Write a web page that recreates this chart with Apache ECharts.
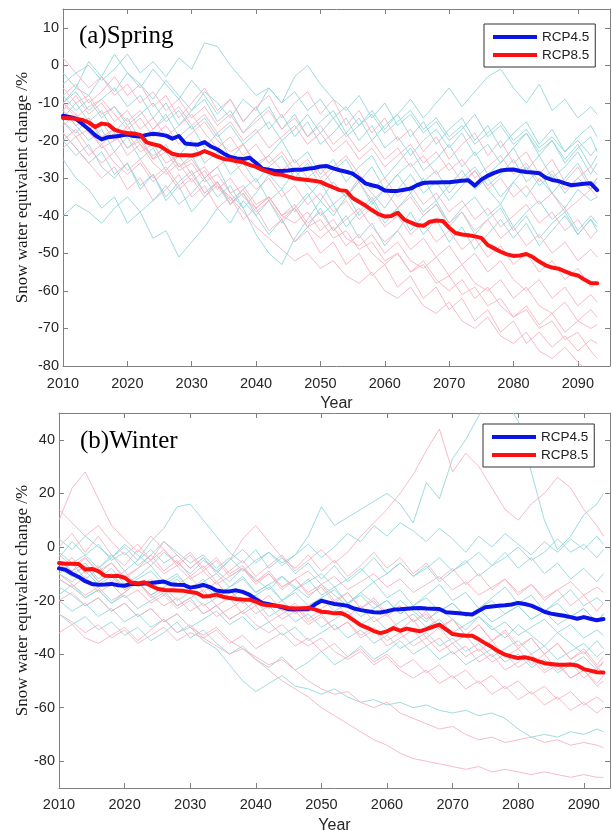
<!DOCTYPE html>
<html>
<head>
<meta charset="utf-8">
<script src="https://cdn.jsdelivr.net/npm/echarts@6/dist/echarts.min.js"></script>
<style>
html,body{margin:0;padding:0;background:#fff}
#c{width:612px;height:830px}
</style>
</head>
<body>
<div id="c"></div>
<script>
// Years of the ensemble-mean curves and of the individual model runs
const yearsMean = [2010,2011,2012,2013,2014,2015,2016,2017,2018,2019,2020,2021,2022,2023,2024,2025,2026,2027,2028,2029,2030,2031,2032,2033,2034,2035,2036,2037,2038,2039,2040,2041,2042,2043,2044,2045,2046,2047,2048,2049,2050,2051,2052,2053,2054,2055,2056,2057,2058,2059,2060,2061,2062,2063,2064,2065,2066,2067,2068,2069,2070,2071,2072,2073,2074,2075,2076,2077,2078,2079,2080,2081,2082,2083,2084,2085,2086,2087,2088,2089,2090,2091,2092,2093];
const yearsRuns = [2010,2012,2014,2016,2018,2020,2022,2024,2026,2028,2030,2032,2034,2036,2038,2040,2042,2044,2046,2048,2050,2052,2054,2056,2058,2060,2062,2064,2066,2068,2070,2072,2074,2076,2078,2080,2082,2084,2086,2088,2090,2092,2093];

// Tick values
const springYTicks = [-80,-70,-60,-50,-40,-30,-20,-10,0,10];
const winterYTicks = [-80,-60,-40,-20,0,20,40];
const xTicks = [2010,2020,2030,2040,2050,2060,2070,2080,2090];

// (a) Spring – ensemble means (%)
const springRcp45 = [-13.4,-13.7,-14.2,-15.6,-17.0,-18.6,-19.7,-19.1,-18.9,-18.7,-18.4,-18.8,-18.9,-18.5,-18.2,-18.4,-18.7,-19.5,-18.8,-20.8,-21.0,-21.1,-20.4,-21.6,-22.4,-23.5,-24.4,-24.8,-24.9,-24.6,-26.0,-27.5,-27.8,-28.1,-28.1,-28.0,-27.8,-27.8,-27.5,-27.3,-26.9,-26.8,-27.4,-27.9,-28.3,-28.8,-30.0,-31.4,-31.9,-32.3,-33.3,-33.4,-33.4,-33.1,-32.8,-31.9,-31.3,-31.2,-31.2,-31.1,-31.1,-30.9,-30.7,-30.6,-32.0,-30.4,-29.4,-28.6,-28.0,-27.8,-27.7,-28.1,-28.4,-28.5,-28.7,-29.9,-30.5,-30.8,-31.4,-31.9,-31.7,-31.5,-31.4,-33.2];
const springRcp85 = [-14.0,-14.1,-14.2,-14.5,-15.2,-16.4,-15.5,-15.7,-17.1,-17.7,-18.0,-18.1,-18.5,-20.5,-21.0,-21.4,-22.5,-23.5,-23.9,-23.9,-24.0,-23.6,-22.8,-23.5,-24.3,-24.9,-25.1,-25.5,-25.8,-26.5,-27.0,-27.8,-28.4,-29.0,-29.1,-29.6,-30.1,-30.3,-30.5,-30.7,-31.0,-31.8,-32.5,-33.2,-33.4,-35.3,-36.3,-37.3,-38.5,-39.6,-40.2,-40.1,-39.2,-41.0,-41.8,-42.5,-42.7,-41.6,-41.3,-41.4,-43.2,-44.6,-45.0,-45.2,-45.5,-45.9,-47.8,-48.7,-49.6,-50.3,-50.7,-50.6,-50.2,-51.0,-52.2,-53.2,-53.8,-54.1,-54.8,-55.5,-55.9,-57.0,-57.9,-58.0];

// (a) Spring – individual model runs, RCP4.5
const springRuns45 = [
  [-5,-2,0,-4,-1,3,-2,1,-3,2,-1,6,5,0,-4,-8,-6,-10,-7,-12,-9,-14,-11,-16,-13,-18,-15,-12,-17,-14,-19,-16,-21,-18,-15,-20,-17,-22,-19,-23,-20,-24,-22],
  [-10,-6,-8,-3,-7,-2,-5,-9,-4,-8,-12,-7,-10,-14,-9,-12,-6,-10,-3,0,-5,-9,-12,-8,-14,-10,-16,-13,-18,-15,-20,-17,-13,-19,-16,-21,-18,-24,-20,-26,-22,-19,-23],
  [-25,-30,-33,-38,-35,-42,-39,-46,-44,-51,-47,-43,-38,-42,-36,-40,-45,-41,-47,-43,-38,-44,-40,-46,-42,-48,-44,-39,-45,-41,-47,-43,-49,-45,-41,-46,-42,-48,-44,-40,-45,-41,-43],
  [-40,-37,-39,-42,-38,-35,-39,-36,-32,-37,-34,-30,-35,-32,-38,-34,-29,-33,-28,-32,-36,-31,-35,-30,-34,-38,-33,-29,-34,-31,-36,-32,-28,-33,-37,-31,-35,-30,-34,-38,-33,-36,-35],
  [-15,-18,-14,-20,-17,-22,-19,-25,-21,-27,-24,-30,-27,-34,-38,-45,-50,-53,-46,-41,-36,-40,-35,-31,-37,-33,-29,-34,-30,-36,-32,-28,-33,-30,-35,-31,-27,-32,-29,-34,-30,-33,-31],
  [-8,-12,-9,-14,-11,-16,-13,-10,-15,-12,-17,-14,-19,-16,-21,-18,-15,-20,-17,-13,-18,-14,-19,-16,-12,-17,-13,-9,-14,-10,-6,-11,-7,-3,-1,-6,-10,-5,-12,-9,-14,-11,-13],
  [-12,-16,-20,-17,-23,-19,-25,-22,-28,-24,-20,-26,-23,-29,-26,-31,-27,-24,-30,-26,-32,-28,-25,-31,-27,-33,-29,-26,-31,-28,-34,-30,-27,-32,-29,-25,-31,-28,-34,-30,-26,-32,-30],
  [-18,-22,-26,-23,-29,-26,-32,-29,-35,-31,-28,-34,-31,-37,-33,-30,-36,-33,-39,-35,-31,-37,-34,-40,-36,-42,-38,-34,-39,-36,-42,-38,-35,-40,-37,-43,-39,-36,-41,-38,-44,-40,-42],
  [-2,-6,1,-3,3,-2,-6,-1,-5,-9,-4,-8,-13,-9,-15,-11,-17,-13,-19,-15,-21,-18,-14,-20,-16,-22,-19,-24,-20,-17,-22,-18,-24,-21,-26,-22,-18,-23,-20,-25,-21,-27,-24],
  [-14,-10,-15,-12,-18,-14,-20,-17,-13,-19,-16,-22,-18,-25,-21,-27,-24,-20,-26,-23,-29,-25,-31,-27,-24,-30,-26,-22,-28,-25,-21,-27,-23,-29,-26,-22,-28,-24,-30,-27,-23,-29,-26],
  [-20,-24,-21,-27,-30,-26,-33,-29,-36,-32,-39,-35,-31,-37,-34,-40,-36,-42,-38,-34,-40,-37,-43,-39,-35,-41,-38,-44,-40,-37,-43,-39,-45,-41,-38,-44,-40,-46,-42,-39,-45,-41,-44],
  [-10,-7,-12,-9,-6,-11,-8,-14,-10,-16,-12,-9,-15,-12,-18,-14,-11,-17,-13,-19,-15,-12,-18,-14,-20,-16,-13,-19,-15,-21,-17,-14,-20,-16,-22,-18,-15,-21,-17,-23,-19,-16,-19]
];

// (a) Spring – individual model runs, RCP8.5
const springRuns85 = [
  [2,-2,-6,-3,-8,-5,-10,-7,-12,-9,-14,-11,-16,-13,-18,-15,-12,-17,-14,-19,-16,-21,-18,-23,-20,-25,-22,-27,-24,-29,-26,-31,-28,-33,-30,-35,-32,-37,-34,-39,-36,-33,-35],
  [-8,-5,-10,-7,-3,-8,-5,-11,-8,-14,-10,-6,-12,-9,-15,-11,-8,-14,-10,-7,-13,-9,-16,-12,-18,-14,-20,-17,-23,-19,-25,-21,-18,-24,-20,-26,-23,-29,-25,-31,-27,-33,-30],
  [-12,-16,-14,-19,-17,-22,-20,-25,-23,-28,-26,-31,-29,-34,-32,-37,-35,-40,-38,-43,-41,-46,-44,-49,-47,-52,-50,-55,-53,-58,-56,-61,-59,-64,-62,-67,-65,-70,-68,-73,-71,-76,-78],
  [-10,-13,-17,-15,-20,-18,-23,-21,-26,-24,-29,-27,-32,-35,-39,-43,-46,-49,-52,-50,-54,-52,-56,-58,-55,-60,-62,-59,-64,-66,-63,-68,-70,-67,-72,-74,-71,-76,-78,-75,-79,-82,-81],
  [-15,-19,-17,-22,-20,-16,-21,-24,-22,-27,-25,-30,-27,-24,-29,-33,-30,-35,-32,-37,-34,-39,-36,-41,-38,-43,-40,-45,-42,-47,-44,-49,-46,-51,-48,-53,-50,-55,-52,-57,-54,-59,-58],
  [-6,-10,-8,-13,-11,-15,-12,-17,-14,-11,-16,-13,-18,-15,-20,-17,-22,-19,-16,-21,-18,-23,-20,-25,-22,-27,-24,-21,-26,-23,-28,-25,-30,-27,-24,-29,-26,-31,-28,-33,-30,-27,-29],
  [-20,-17,-22,-26,-23,-28,-25,-30,-27,-32,-29,-34,-31,-36,-33,-38,-35,-40,-42,-39,-44,-41,-46,-48,-45,-50,-47,-52,-54,-51,-56,-53,-58,-60,-57,-62,-59,-64,-66,-63,-68,-65,-67],
  [-10,-14,-11,-9,-13,-17,-14,-19,-16,-21,-18,-15,-20,-23,-21,-26,-24,-28,-25,-30,-27,-32,-35,-31,-36,-33,-38,-35,-40,-37,-42,-39,-44,-41,-46,-43,-48,-45,-50,-47,-52,-49,-51],
  [-18,-22,-26,-30,-27,-33,-30,-36,-33,-29,-35,-32,-38,-35,-41,-38,-44,-41,-47,-44,-50,-47,-53,-50,-56,-53,-59,-56,-62,-59,-65,-62,-68,-65,-71,-68,-74,-71,-75,-72,-76,-73,-74],
  [-12,-8,-13,-10,-15,-12,-17,-14,-19,-16,-13,-18,-22,-19,-24,-21,-26,-23,-28,-25,-30,-27,-24,-29,-33,-30,-35,-32,-37,-34,-39,-36,-41,-38,-43,-40,-37,-42,-39,-44,-41,-46,-44],
  [-16,-13,-18,-21,-18,-24,-21,-26,-29,-26,-31,-28,-33,-30,-35,-38,-35,-40,-37,-42,-39,-44,-41,-38,-43,-47,-44,-49,-46,-51,-48,-53,-50,-55,-52,-57,-60,-57,-62,-59,-64,-61,-63],
  [-22,-19,-24,-21,-26,-29,-26,-31,-28,-33,-30,-35,-32,-37,-34,-39,-36,-41,-38,-43,-46,-43,-48,-45,-50,-53,-50,-55,-52,-57,-60,-57,-62,-59,-64,-67,-64,-69,-66,-71,-68,-70,-69]
];

// (b) Winter – ensemble means (%)
const winterRcp45 = [-8.0,-8.5,-10.0,-11.2,-12.8,-13.8,-14.1,-14.0,-13.8,-14.3,-14.5,-13.8,-13.8,-13.7,-13.5,-13.2,-12.9,-13.9,-14.1,-14.2,-15.2,-14.8,-14.2,-15.0,-16.3,-16.6,-16.6,-16.2,-16.8,-17.8,-19.5,-20.9,-21.4,-21.9,-22.5,-23.3,-23.4,-23.2,-23.3,-21.5,-20.1,-20.7,-21.3,-21.6,-22.0,-23.0,-23.6,-24.0,-24.4,-24.5,-24.0,-23.4,-23.3,-23.1,-22.9,-22.8,-23.0,-23.1,-23.2,-24.4,-24.6,-24.8,-25.0,-25.2,-23.8,-22.5,-22.2,-22.0,-21.8,-21.5,-20.9,-21.3,-21.9,-23.0,-24.2,-24.9,-25.3,-25.7,-26.2,-26.8,-26.2,-26.8,-27.4,-26.9];
const winterRcp85 = [-6.0,-6.3,-6.3,-6.4,-8.4,-8.2,-9.0,-10.8,-10.9,-10.8,-11.5,-13.3,-13.6,-13.2,-14.5,-15.6,-16.1,-16.2,-16.3,-16.4,-16.8,-17.2,-18.5,-18.3,-17.8,-18.6,-19.1,-19.4,-19.6,-19.7,-20.4,-21.5,-21.8,-22.0,-22.2,-22.8,-23.0,-22.9,-22.8,-23.3,-24.2,-24.4,-24.8,-24.7,-25.8,-27.5,-29.2,-30.2,-31.4,-32.2,-31.5,-30.3,-31.3,-30.5,-31.0,-31.5,-30.7,-29.8,-29.0,-30.8,-32.5,-32.9,-33.2,-33.2,-34.5,-36.0,-37.4,-39.0,-40.2,-40.9,-41.5,-41.2,-41.7,-42.6,-43.4,-43.7,-44.0,-44.0,-43.9,-44.3,-45.6,-46.2,-46.8,-46.9];

// (b) Winter – individual model runs, RCP4.5
const winterRuns45 = [
  [-4,2,-3,1,-5,-2,-7,-3,2,-2,-6,-3,-8,-4,-9,-5,-2,-6,-3,4,15,8,11,14,17,20,16,9,24,18,33,40,49,58,55,47,28,10,-1,4,12,16,20],
  [-10,-6,-12,-8,-3,-9,-5,2,7,15,16,10,4,-2,-6,-1,-8,-4,-10,-6,-12,-7,-13,-9,-4,-10,-6,-11,-7,-13,-9,-5,-11,-7,-2,-8,-4,-10,-6,-12,-8,-13,-10],
  [-20,-24,-21,-26,-23,-28,-25,-30,-27,-32,-30,-35,-38,-44,-50,-54,-51,-48,-52,-53,-55,-53,-56,-58,-57,-59,-58,-60,-59,-61,-62,-61,-63,-62,-64,-68,-71,-70,-71,-69,-70,-68,-69],
  [-5,-9,-6,-12,-8,-14,-11,-7,-13,-10,-16,-12,-18,-15,-11,-17,-14,-20,-16,-12,-18,-15,-21,-17,-13,-19,-16,-22,-18,-14,-20,-17,-23,-19,-15,-21,-18,-24,-20,-16,-22,-19,-21],
  [-12,-15,-19,-16,-21,-18,-23,-20,-17,-22,-19,-25,-22,-27,-24,-20,-26,-23,-28,-25,-30,-27,-24,-29,-26,-31,-28,-25,-30,-27,-32,-29,-26,-31,-28,-33,-30,-27,-32,-29,-34,-31,-33],
  [-2,-6,-3,-8,-4,0,-5,-1,-6,-3,-8,-4,-9,-5,-1,-6,-2,-7,-3,1,-4,0,5,2,8,4,9,6,2,7,3,-2,4,0,5,1,-3,2,-2,3,-1,4,1],
  [-15,-18,-22,-19,-24,-21,-26,-23,-28,-25,-30,-27,-24,-29,-26,-31,-28,-33,-30,-35,-32,-29,-34,-31,-36,-33,-38,-35,-32,-37,-34,-39,-36,-41,-38,-35,-40,-37,-42,-39,-36,-41,-39],
  [-8,-11,-7,-13,-10,-15,-12,-9,-14,-11,-16,-13,-10,-15,-12,-17,-14,-11,-16,-13,-10,-15,-12,-8,-13,-10,-6,-11,-8,-4,-9,-6,-2,-7,-4,0,-5,-2,3,-2,1,-4,-1],
  [-18,-14,-19,-16,-21,-17,-13,-18,-15,-20,-17,-22,-19,-16,-21,-18,-23,-20,-25,-22,-19,-24,-21,-26,-23,-20,-25,-22,-27,-24,-21,-26,-23,-28,-25,-22,-27,-24,-29,-26,-23,-28,-25],
  [3,-1,4,0,-4,1,-3,-7,-2,-6,-10,-5,-9,-13,-8,-12,-16,-11,-15,-19,-14,-18,-22,-17,-21,-25,-20,-24,-28,-23,-27,-31,-26,-30,-34,-29,-33,-37,-32,-36,-40,-35,-38],
  [-25,-29,-26,-31,-28,-33,-30,-35,-32,-28,-34,-31,-36,-40,-37,-42,-45,-41,-46,-43,-39,-44,-41,-37,-42,-39,-35,-40,-37,-42,-39,-44,-41,-38,-43,-40,-45,-42,-47,-44,-41,-46,-43],
  [-10,-13,-9,-14,-11,-16,-13,-18,-15,-12,-17,-14,-19,-16,-21,-18,-15,-20,-17,-22,-19,-16,-21,-18,-23,-20,-25,-22,-19,-24,-21,-26,-23,-20,-25,-22,-27,-24,-21,-26,-23,-28,-25]
];

// (b) Winter – individual model runs, RCP8.5
const winterRuns85 = [
  [10,22,28,18,8,3,-2,4,-1,-6,-2,-8,-4,-10,-7,-13,-9,-15,-12,-17,-14,-20,-17,-23,-19,-25,-22,-28,-24,-30,-27,-33,-29,-35,-31,-37,-34,-40,-36,-42,-38,-44,-41],
  [-5,-9,-4,-10,-6,-12,-8,-3,-9,-5,-11,-7,-13,-9,-5,-11,-7,-3,-9,-5,-1,-6,-2,4,9,14,20,27,36,44,28,35,30,22,14,10,16,20,26,22,14,8,4],
  [-25,-28,-32,-29,-34,-31,-36,-33,-30,-35,-32,-34,-37,-40,-38,-42,-46,-50,-53,-56,-60,-63,-66,-69,-72,-74,-77,-79,-80,-81,-82,-83,-82,-84,-83,-84,-85,-84,-85,-86,-85,-86,-86],
  [-20,-17,-22,-19,-24,-21,-26,-23,-28,-25,-30,-33,-30,-35,-38,-41,-44,-42,-46,-50,-53,-55,-54,-58,-60,-58,-62,-64,-66,-68,-67,-70,-72,-71,-73,-72,-71,-73,-72,-74,-73,-74,-75],
  [-12,-15,-11,-17,-14,-19,-16,-21,-18,-23,-20,-25,-22,-27,-24,-29,-32,-29,-34,-37,-34,-39,-42,-39,-44,-41,-46,-49,-46,-51,-48,-53,-50,-55,-52,-57,-54,-59,-56,-61,-58,-62,-60],
  [-8,-4,-10,-7,-13,-9,-15,-12,-18,-14,-11,-17,-13,-19,-16,-22,-18,-24,-21,-27,-23,-20,-26,-22,-28,-25,-31,-27,-34,-30,-36,-33,-39,-35,-41,-38,-44,-40,-46,-43,-49,-45,-47],
  [0,5,-2,4,-3,-7,-1,-5,2,-3,-8,-4,-10,-5,3,8,2,-4,-8,-3,-9,-5,-11,-7,-2,-8,-4,-10,-6,-12,-8,-14,-10,-16,-12,-18,-14,-20,-16,-22,-18,-24,-21],
  [-6,-10,-7,-13,-10,-16,-13,-19,-16,-22,-19,-16,-22,-19,-25,-22,-28,-25,-22,-28,-25,-31,-28,-34,-31,-37,-34,-31,-37,-34,-40,-37,-43,-40,-46,-43,-40,-46,-43,-49,-46,-52,-50],
  [14,9,4,8,2,-3,1,-5,-1,-7,-3,-9,-5,-11,-8,-14,-10,-16,-12,-18,-15,-21,-17,-23,-20,-26,-22,-28,-25,-31,-27,-33,-29,-35,-32,-38,-34,-40,-36,-42,-39,-45,-43],
  [-32,-29,-34,-36,-33,-30,-35,-31,-27,-32,-29,-34,-31,-36,-33,-38,-35,-32,-37,-34,-39,-36,-41,-38,-43,-40,-45,-42,-47,-44,-49,-46,-51,-48,-53,-50,-55,-52,-57,-54,-59,-56,-58],
  [-10,-14,-18,-15,-20,-17,-13,-18,-22,-19,-24,-21,-26,-23,-20,-25,-22,-27,-24,-29,-26,-31,-28,-33,-30,-35,-32,-37,-34,-39,-36,-41,-38,-43,-40,-45,-42,-47,-44,-49,-46,-51,-48],
  [-3,-7,-4,-9,-6,-11,-8,-5,-10,-7,-12,-9,-14,-11,-8,-13,-10,-15,-12,-9,-14,-11,-16,-13,-10,-15,-12,-17,-14,-11,-16,-13,-18,-15,-12,-17,-14,-19,-16,-13,-18,-15,-17]
];

const BLUE = '#0a14e6', RED = '#ff1010';
const CYAN = '#8fd4d9', PINK = '#f6afbd';
const AXIS = '#808080';

const pairs = (xs, ys) => ys.map((v, i) => [xs[i], v]);

function runSeries(runs, color, axis) {
  return runs.map(vals => ({
    type: 'line', xAxisIndex: axis, yAxisIndex: axis,
    data: pairs(yearsRuns, vals), symbol: 'none', silent: true,
    lineStyle: { color: color, width: 1, opacity: 0.85 }, z: 1
  }));
}
function meanSeries(name, vals, color, axis) {
  return {
    name: name, type: 'line', xAxisIndex: axis, yAxisIndex: axis,
    data: pairs(yearsMean, vals), symbol: 'none', silent: true, color: color,
    lineStyle: { color: color, width: 4, cap: 'round', join: 'round' }, z: 5
  };
}

const tickStyle = { show: true, inside: true, length: 5, lineStyle: { color: AXIS } };
const lineStyle = { show: true, onZero: false, lineStyle: { color: AXIS, width: 1 } };
const labelFont = { fontFamily: 'Liberation Sans', fontSize: 14.5, color: '#262626' };
const plain = v => String(v);

function xAxes(grid, max, margin, gap) {
  return [
    { type: 'value', gridIndex: grid, min: 2010, max: max, position: 'bottom',
      name: 'Year', nameLocation: 'middle', nameGap: gap, nameMoveOverlap: false,
      nameTextStyle: { fontFamily: 'Liberation Sans', fontSize: 16, color: '#262626' },
      axisLine: lineStyle, axisTick: Object.assign({ customValues: xTicks }, tickStyle),
      axisLabel: Object.assign({ customValues: xTicks, margin: margin, formatter: plain }, labelFont),
      splitLine: { show: false } },
    { type: 'value', gridIndex: grid, min: 2010, max: max, position: 'top',
      axisLine: lineStyle, axisTick: Object.assign({ customValues: xTicks }, tickStyle),
      axisLabel: { show: false }, splitLine: { show: false } }
  ];
}
function yAxes(grid, min, max, ticks, gap) {
  return [
    { type: 'value', gridIndex: grid, min: min, max: max, position: 'left',
      name: 'Snow water equivalent change /%', nameLocation: 'middle', nameGap: gap, nameMoveOverlap: false,
      nameTextStyle: { fontFamily: 'Liberation Serif', fontSize: 17, color: '#1a1a1a' },
      axisLine: lineStyle, axisTick: Object.assign({ customValues: ticks }, tickStyle),
      axisLabel: Object.assign({ customValues: ticks, margin: 4, formatter: plain }, labelFont),
      splitLine: { show: false } },
    { type: 'value', gridIndex: grid, min: min, max: max, position: 'right',
      axisLine: lineStyle, axisTick: Object.assign({ customValues: ticks }, tickStyle),
      axisLabel: { show: false }, splitLine: { show: false } }
  ];
}

const xa = xAxes(0, 2095, 10, 30), xb = xAxes(1, 2094, 9, 30);
const ya = yAxes(0, -80, 15, springYTicks, 32), yb = yAxes(1, -90, 50, winterYTicks, 28);

function legendAt(left, top) {
  return {
    left: left, top: top, orient: 'vertical', padding: [6, 6, 5, 9], itemGap: 4,
    itemWidth: 44, itemHeight: 4, icon: 'rect',
    borderColor: '#333', borderWidth: 1, backgroundColor: '#fff',
    textStyle: { fontFamily: 'Liberation Sans', fontSize: 13.5, color: '#222' },
    data: ['RCP4.5', 'RCP8.5']
  };
}

const titleFont = { fontFamily: 'Liberation Serif', fontSize: 25, fontWeight: 'normal', color: '#000' };

const option = {
  animation: false,
  backgroundColor: '#fff',
  title: [
    { text: '(a)Spring', left: 79, top: 24, padding: 0, textStyle: titleFont },
    { text: '(b)Winter', left: 80, top: 429, padding: 0, textStyle: titleFont }
  ],
  legend: [legendAt(484, 24), legendAt(483, 424)],
  grid: [
    { left: 63, top: 9, width: 547, height: 357, outerBoundsMode: 'none' },
    { left: 59, top: 413, width: 551, height: 375, outerBoundsMode: 'none' }
  ],
  // axis index order: 0 bottom a, 1 top a, 2 bottom b, 3 top b
  xAxis: [xa[0], xa[1], xb[0], xb[1]],
  yAxis: [ya[0], ya[1], yb[0], yb[1]],
  series: [].concat(
    runSeries(springRuns45, CYAN, 0),
    runSeries(springRuns85, PINK, 0),
    [meanSeries('RCP4.5', springRcp45, BLUE, 0), meanSeries('RCP8.5', springRcp85, RED, 0)],
    runSeries(winterRuns45, CYAN, 2),
    runSeries(winterRuns85, PINK, 2),
    [meanSeries('RCP4.5', winterRcp45, BLUE, 2), meanSeries('RCP8.5', winterRcp85, RED, 2)]
  )
};

const chart = echarts.init(document.getElementById('c'));
chart.setOption(option);
</script>
</body>
</html>
